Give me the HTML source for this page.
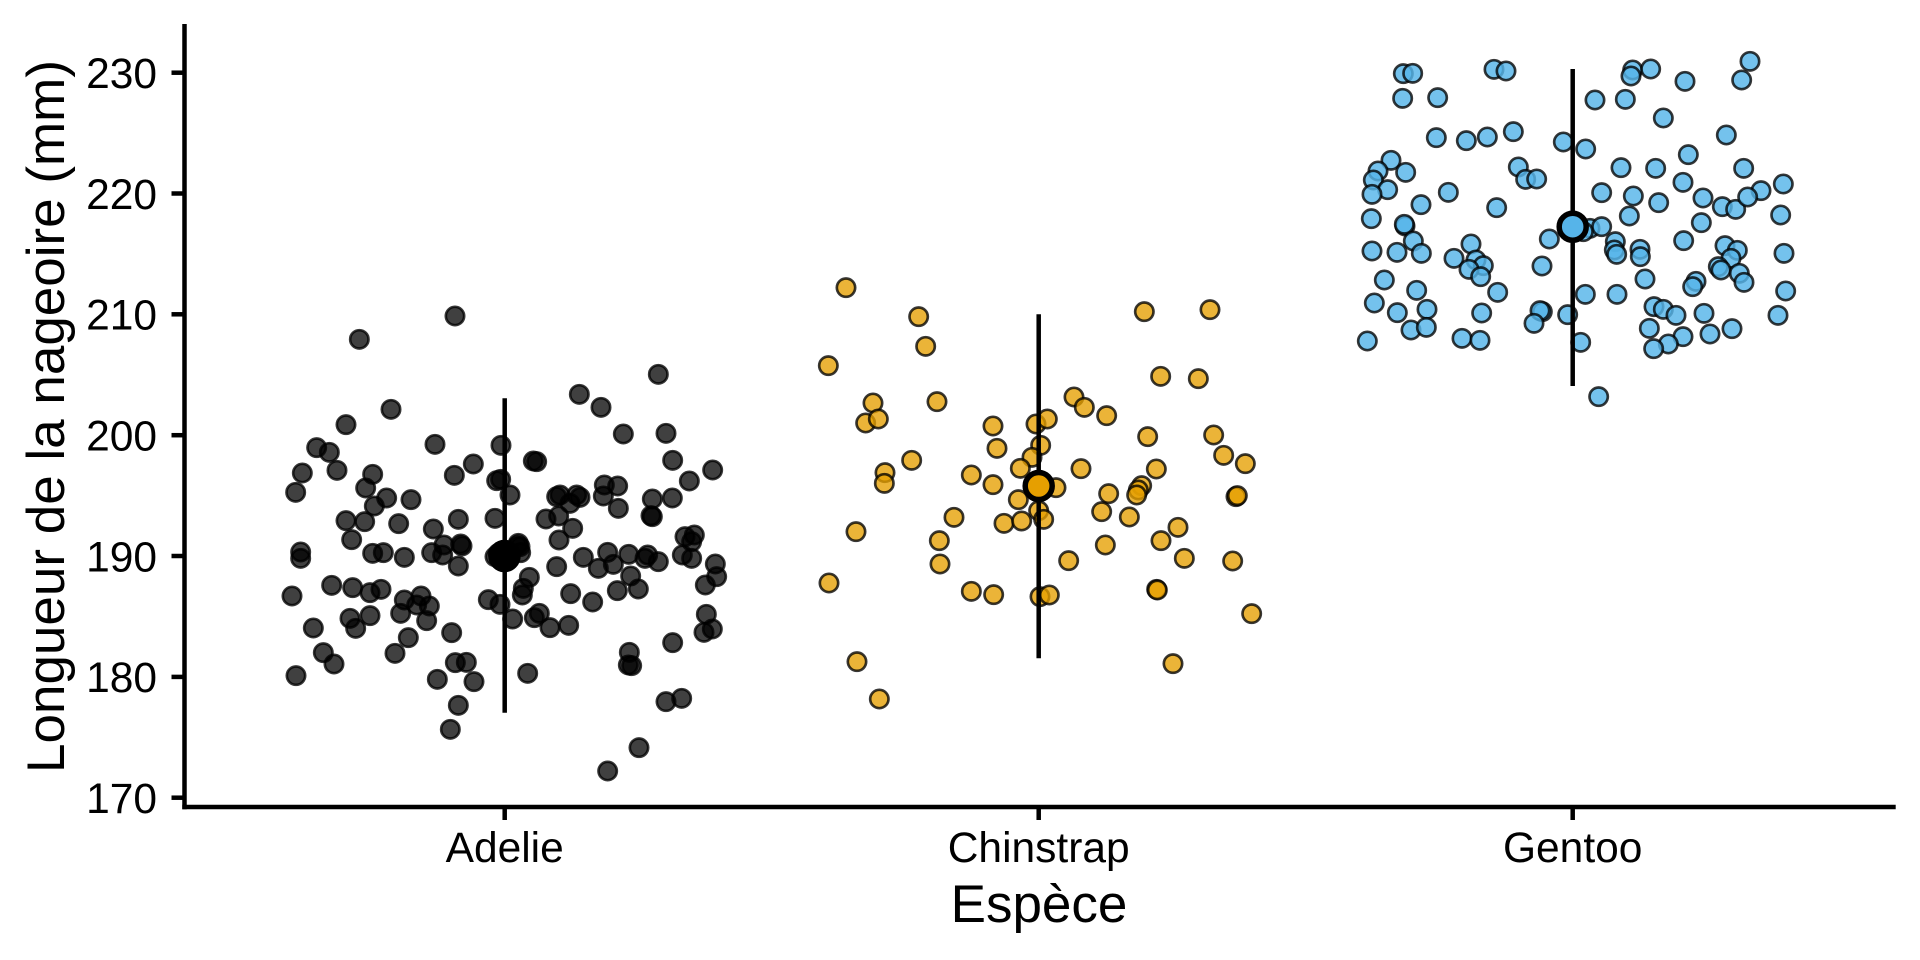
<!DOCTYPE html>
<html>
<head>
<meta charset="utf-8">
<style>
html,body{margin:0;padding:0;background:#fff;}
svg{display:block;}
text{font-family:"Liberation Sans",Arial,sans-serif;fill:#000;}
</style>
</head>
<body>
<svg width="1920" height="960" viewBox="0 0 1920 960" xmlns="http://www.w3.org/2000/svg">
<rect width="1920" height="960" fill="#fff"/>

<!-- Adelie points -->
<g transform="translate(270 290) scale(0.333333)" fill="#000" stroke="#000" stroke-width="8">
<g fill-opacity="0.75" stroke-opacity="0.78">
<circle cx="555" cy="78" r="27.5"/><circle cx="268" cy="148" r="27.5"/><circle cx="1165" cy="253" r="27.5"/><circle cx="928" cy="313" r="27.5"/>
<circle cx="993" cy="352" r="27.5"/><circle cx="363" cy="358" r="27.5"/><circle cx="228" cy="404" r="27.5"/><circle cx="1060" cy="432" r="27.5"/>
<circle cx="1188" cy="430" r="27.5"/><circle cx="495" cy="463" r="27.5"/><circle cx="693" cy="466" r="27.5"/><circle cx="140" cy="473" r="27.5"/>
<circle cx="178" cy="487" r="27.5"/><circle cx="790" cy="513" r="27.5"/><circle cx="800" cy="515" r="27.5"/><circle cx="1208" cy="511" r="27.5"/>
<circle cx="610" cy="522" r="27.5"/><circle cx="97" cy="549" r="27.5"/><circle cx="201" cy="541" r="27.5"/><circle cx="1328" cy="540" r="27.5"/>
<circle cx="553" cy="556" r="27.5"/><circle cx="308" cy="553" r="27.5"/><circle cx="680" cy="572" r="27.5"/><circle cx="692" cy="568" r="27.5"/>
<circle cx="287" cy="594" r="27.5"/><circle cx="1258" cy="573" r="27.5"/><circle cx="77" cy="607" r="27.5"/><circle cx="1003" cy="585" r="27.5"/>
<circle cx="1043" cy="588" r="27.5"/><circle cx="720" cy="615" r="27.5"/><circle cx="350" cy="624" r="27.5"/><circle cx="423" cy="629" r="27.5"/>
<circle cx="870" cy="615" r="27.5"/><circle cx="860" cy="620" r="27.5"/><circle cx="920" cy="615" r="27.5"/><circle cx="930" cy="622" r="27.5"/>
<circle cx="900" cy="640" r="27.5"/><circle cx="1000" cy="618" r="27.5"/><circle cx="1147" cy="627" r="27.5"/><circle cx="1207" cy="624" r="27.5"/>
<circle cx="313" cy="648" r="27.5"/><circle cx="1045" cy="655" r="27.5"/><circle cx="828" cy="687" r="27.5"/><circle cx="866" cy="678" r="27.5"/>
<circle cx="1147" cy="680" r="27.5"/><circle cx="1143" cy="677" r="27.5"/><circle cx="675" cy="685" r="27.5"/><circle cx="565" cy="688" r="27.5"/>
<circle cx="228" cy="692" r="27.5"/><circle cx="284" cy="695" r="27.5"/><circle cx="386" cy="701" r="27.5"/><circle cx="490" cy="717" r="27.5"/>
<circle cx="908" cy="715" r="27.5"/><circle cx="867" cy="750" r="27.5"/><circle cx="245" cy="749" r="27.5"/><circle cx="1245" cy="740" r="27.5"/>
<circle cx="1273" cy="735" r="27.5"/><circle cx="1265" cy="755" r="27.5"/><circle cx="522" cy="765" r="27.5"/><circle cx="572" cy="762" r="27.5"/>
<circle cx="576" cy="768" r="27.5"/><circle cx="745" cy="760" r="27.5"/><circle cx="750" cy="770" r="27.5"/><circle cx="92" cy="786" r="27.5"/>
<circle cx="92" cy="805" r="27.5"/><circle cx="308" cy="790" r="27.5"/><circle cx="340" cy="788" r="27.5"/><circle cx="403" cy="802" r="27.5"/>
<circle cx="485" cy="788" r="27.5"/><circle cx="518" cy="795" r="27.5"/><circle cx="565" cy="828" r="27.5"/><circle cx="940" cy="802" r="27.5"/>
<circle cx="1013" cy="787" r="27.5"/><circle cx="1076" cy="793" r="27.5"/><circle cx="1133" cy="795" r="27.5"/><circle cx="1125" cy="805" r="27.5"/>
<circle cx="1165" cy="815" r="27.5"/><circle cx="1030" cy="823" r="27.5"/><circle cx="985" cy="835" r="27.5"/><circle cx="1237" cy="795" r="27.5"/>
<circle cx="1265" cy="805" r="27.5"/><circle cx="1336" cy="822" r="27.5"/><circle cx="1340" cy="860" r="27.5"/><circle cx="860" cy="830" r="27.5"/>
<circle cx="778" cy="862" r="27.5"/><circle cx="1082" cy="858" r="27.5"/><circle cx="1306" cy="885" r="27.5"/><circle cx="185" cy="886" r="27.5"/>
<circle cx="248" cy="893" r="27.5"/><circle cx="300" cy="908" r="27.5"/><circle cx="333" cy="898" r="27.5"/><circle cx="66" cy="918" r="27.5"/>
<circle cx="760" cy="895" r="27.5"/><circle cx="757" cy="915" r="27.5"/><circle cx="1042" cy="902" r="27.5"/><circle cx="1105" cy="897" r="27.5"/>
<circle cx="902" cy="911" r="27.5"/><circle cx="968" cy="936" r="27.5"/><circle cx="403" cy="930" r="27.5"/><circle cx="453" cy="918" r="27.5"/>
<circle cx="440" cy="945" r="27.5"/><circle cx="478" cy="948" r="27.5"/><circle cx="392" cy="970" r="27.5"/><circle cx="655" cy="929" r="27.5"/>
<circle cx="690" cy="943" r="27.5"/><circle cx="470" cy="992" r="27.5"/><circle cx="240" cy="985" r="27.5"/><circle cx="300" cy="977" r="27.5"/>
<circle cx="257" cy="1015" r="27.5"/><circle cx="130" cy="1014" r="27.5"/><circle cx="728" cy="987" r="27.5"/><circle cx="793" cy="983" r="27.5"/>
<circle cx="808" cy="970" r="27.5"/><circle cx="840" cy="1013" r="27.5"/><circle cx="896" cy="1006" r="27.5"/><circle cx="1309" cy="973" r="27.5"/>
<circle cx="1302" cy="1027" r="27.5"/><circle cx="1327" cy="1017" r="27.5"/><circle cx="545" cy="1028" r="27.5"/><circle cx="415" cy="1043" r="27.5"/>
<circle cx="1208" cy="1058" r="27.5"/><circle cx="160" cy="1088" r="27.5"/><circle cx="192" cy="1122" r="27.5"/><circle cx="375" cy="1090" r="27.5"/>
<circle cx="1078" cy="1087" r="27.5"/><circle cx="1075" cy="1125" r="27.5"/><circle cx="1085" cy="1127" r="27.5"/><circle cx="556" cy="1118" r="27.5"/>
<circle cx="589" cy="1117" r="27.5"/><circle cx="78" cy="1157" r="27.5"/><circle cx="502" cy="1168" r="27.5"/><circle cx="612" cy="1175" r="27.5"/>
<circle cx="773" cy="1150" r="27.5"/><circle cx="565" cy="1246" r="27.5"/><circle cx="1188" cy="1235" r="27.5"/><circle cx="1235" cy="1225" r="27.5"/>
<circle cx="541" cy="1318" r="27.5"/><circle cx="1107" cy="1373" r="27.5"/><circle cx="1013" cy="1443" r="27.5"/>
<circle cx="685" cy="790" r="27.5"/><circle cx="715" cy="805" r="27.5"/><circle cx="742" cy="768" r="27.5"/><circle cx="752" cy="788" r="27.5"/><circle cx="700" cy="815" r="27.5"/><circle cx="675" cy="800" r="27.5"/>
</g>
</g>

<!-- Chinstrap points -->
<g transform="translate(810 265) scale(0.333333)" fill="#E69F00" stroke="#000" stroke-width="8">
<g fill-opacity="0.78" stroke-opacity="0.78">
<circle cx="108" cy="68" r="27.5"/><circle cx="326" cy="155" r="27.5"/><circle cx="347" cy="244" r="27.5"/><circle cx="55" cy="302" r="27.5"/>
<circle cx="1003" cy="140" r="27.5"/><circle cx="1200" cy="134" r="27.5"/><circle cx="1052" cy="334" r="27.5"/><circle cx="1165" cy="341" r="27.5"/>
<circle cx="189" cy="414" r="27.5"/><circle cx="167" cy="474" r="27.5"/><circle cx="205" cy="462" r="27.5"/><circle cx="381" cy="410" r="27.5"/>
<circle cx="792" cy="396" r="27.5"/><circle cx="823" cy="427" r="27.5"/><circle cx="890" cy="452" r="27.5"/><circle cx="549" cy="483" r="27.5"/>
<circle cx="678" cy="477" r="27.5"/><circle cx="712" cy="462" r="27.5"/><circle cx="692" cy="541" r="27.5"/><circle cx="561" cy="550" r="27.5"/>
<circle cx="1013" cy="515" r="27.5"/><circle cx="1211" cy="510" r="27.5"/><circle cx="1241" cy="571" r="27.5"/><circle cx="1306" cy="596" r="27.5"/>
<circle cx="305" cy="586" r="27.5"/><circle cx="666" cy="577" r="27.5"/><circle cx="631" cy="610" r="27.5"/><circle cx="813" cy="611" r="27.5"/>
<circle cx="1039" cy="612" r="27.5"/><circle cx="225" cy="623" r="27.5"/><circle cx="223" cy="655" r="27.5"/><circle cx="484" cy="630" r="27.5"/>
<circle cx="549" cy="659" r="27.5"/><circle cx="738" cy="668" r="27.5"/><circle cx="995" cy="662" r="27.5"/><circle cx="985" cy="675" r="27.5"/>
<circle cx="980" cy="690" r="27.5"/><circle cx="896" cy="686" r="27.5"/><circle cx="1278" cy="695" r="27.5"/><circle cx="1282" cy="692" r="27.5"/>
<circle cx="625" cy="704" r="27.5"/><circle cx="686" cy="737" r="27.5"/><circle cx="701" cy="763" r="27.5"/><circle cx="875" cy="740" r="27.5"/>
<circle cx="958" cy="756" r="27.5"/><circle cx="432" cy="757" r="27.5"/><circle cx="582" cy="775" r="27.5"/><circle cx="635" cy="768" r="27.5"/>
<circle cx="138" cy="800" r="27.5"/><circle cx="1104" cy="787" r="27.5"/><circle cx="1053" cy="827" r="27.5"/><circle cx="388" cy="827" r="27.5"/>
<circle cx="886" cy="840" r="27.5"/><circle cx="776" cy="887" r="27.5"/><circle cx="1123" cy="880" r="27.5"/><circle cx="1268" cy="888" r="27.5"/>
<circle cx="390" cy="897" r="27.5"/><circle cx="57" cy="954" r="27.5"/><circle cx="1040" cy="973" r="27.5"/><circle cx="1042" cy="975" r="27.5"/>
<circle cx="484" cy="979" r="27.5"/><circle cx="551" cy="989" r="27.5"/><circle cx="690" cy="995" r="27.5"/><circle cx="718" cy="990" r="27.5"/>
<circle cx="1325" cy="1046" r="27.5"/><circle cx="141" cy="1190" r="27.5"/><circle cx="1089" cy="1196" r="27.5"/><circle cx="208" cy="1302" r="27.5"/>
</g>
</g>

<!-- Gentoo points -->
<g transform="translate(1350 40) scale(0.333333)" fill="#56B4E9" stroke="#000" stroke-width="8">
<g fill-opacity="0.82" stroke-opacity="0.78">
<circle cx="160" cy="101" r="27.5"/><circle cx="188" cy="100" r="27.5"/><circle cx="432" cy="88" r="27.5"/><circle cx="468" cy="93" r="27.5"/>
<circle cx="848" cy="90" r="27.5"/><circle cx="843" cy="108" r="27.5"/><circle cx="902" cy="87" r="27.5"/><circle cx="1005" cy="124" r="27.5"/>
<circle cx="1175" cy="120" r="27.5"/><circle cx="1200" cy="64" r="27.5"/><circle cx="158" cy="175" r="27.5"/><circle cx="263" cy="173" r="27.5"/>
<circle cx="735" cy="180" r="27.5"/><circle cx="826" cy="178" r="27.5"/><circle cx="940" cy="234" r="27.5"/><circle cx="259" cy="293" r="27.5"/>
<circle cx="349" cy="302" r="27.5"/><circle cx="412" cy="291" r="27.5"/><circle cx="490" cy="275" r="27.5"/><circle cx="640" cy="306" r="27.5"/>
<circle cx="707" cy="327" r="27.5"/><circle cx="1129" cy="285" r="27.5"/><circle cx="1015" cy="344" r="27.5"/><circle cx="123" cy="361" r="27.5"/>
<circle cx="84" cy="393" r="27.5"/><circle cx="70" cy="420" r="27.5"/><circle cx="167" cy="397" r="27.5"/><circle cx="113" cy="449" r="27.5"/>
<circle cx="66" cy="463" r="27.5"/><circle cx="505" cy="381" r="27.5"/><circle cx="527" cy="418" r="27.5"/><circle cx="560" cy="417" r="27.5"/>
<circle cx="813" cy="383" r="27.5"/><circle cx="917" cy="385" r="27.5"/><circle cx="1181" cy="385" r="27.5"/><circle cx="999" cy="427" r="27.5"/>
<circle cx="1300" cy="432" r="27.5"/><circle cx="1233" cy="452" r="27.5"/><circle cx="295" cy="457" r="27.5"/><circle cx="755" cy="458" r="27.5"/>
<circle cx="850" cy="468" r="27.5"/><circle cx="926" cy="488" r="27.5"/><circle cx="1059" cy="474" r="27.5"/><circle cx="1117" cy="500" r="27.5"/>
<circle cx="1157" cy="508" r="27.5"/><circle cx="1193" cy="471" r="27.5"/><circle cx="213" cy="494" r="27.5"/><circle cx="440" cy="503" r="27.5"/>
<circle cx="1292" cy="525" r="27.5"/><circle cx="64" cy="536" r="27.5"/><circle cx="838" cy="528" r="27.5"/><circle cx="1054" cy="548" r="27.5"/>
<circle cx="165" cy="558" r="27.5"/><circle cx="163" cy="553" r="27.5"/><circle cx="598" cy="597" r="27.5"/><circle cx="720" cy="565" r="27.5"/>
<circle cx="755" cy="560" r="27.5"/><circle cx="700" cy="575" r="27.5"/><circle cx="1001" cy="602" r="27.5"/><circle cx="190" cy="603" r="27.5"/>
<circle cx="66" cy="633" r="27.5"/><circle cx="141" cy="637" r="27.5"/><circle cx="214" cy="640" r="27.5"/><circle cx="363" cy="612" r="27.5"/>
<circle cx="312" cy="655" r="27.5"/><circle cx="378" cy="660" r="27.5"/><circle cx="400" cy="677" r="27.5"/><circle cx="357" cy="688" r="27.5"/>
<circle cx="392" cy="710" r="27.5"/><circle cx="796" cy="605" r="27.5"/><circle cx="793" cy="630" r="27.5"/><circle cx="800" cy="643" r="27.5"/>
<circle cx="870" cy="628" r="27.5"/><circle cx="871" cy="650" r="27.5"/><circle cx="1125" cy="617" r="27.5"/><circle cx="1162" cy="631" r="27.5"/>
<circle cx="1143" cy="655" r="27.5"/><circle cx="1105" cy="680" r="27.5"/><circle cx="1113" cy="690" r="27.5"/><circle cx="1168" cy="700" r="27.5"/>
<circle cx="1182" cy="727" r="27.5"/><circle cx="1302" cy="640" r="27.5"/><circle cx="576" cy="678" r="27.5"/><circle cx="885" cy="717" r="27.5"/>
<circle cx="103" cy="720" r="27.5"/><circle cx="200" cy="751" r="27.5"/><circle cx="443" cy="757" r="27.5"/><circle cx="1038" cy="724" r="27.5"/>
<circle cx="1028" cy="740" r="27.5"/><circle cx="1307" cy="753" r="27.5"/><circle cx="706" cy="763" r="27.5"/><circle cx="801" cy="763" r="27.5"/>
<circle cx="73" cy="789" r="27.5"/><circle cx="142" cy="818" r="27.5"/><circle cx="231" cy="808" r="27.5"/><circle cx="395" cy="819" r="27.5"/>
<circle cx="577" cy="815" r="27.5"/><circle cx="570" cy="812" r="27.5"/><circle cx="552" cy="850" r="27.5"/><circle cx="653" cy="824" r="27.5"/>
<circle cx="912" cy="800" r="27.5"/><circle cx="940" cy="808" r="27.5"/><circle cx="978" cy="826" r="27.5"/><circle cx="1062" cy="820" r="27.5"/>
<circle cx="1284" cy="826" r="27.5"/><circle cx="183" cy="870" r="27.5"/><circle cx="229" cy="862" r="27.5"/><circle cx="898" cy="865" r="27.5"/>
<circle cx="1146" cy="866" r="27.5"/><circle cx="1080" cy="882" r="27.5"/><circle cx="999" cy="890" r="27.5"/><circle cx="955" cy="912" r="27.5"/>
<circle cx="911" cy="926" r="27.5"/><circle cx="52" cy="903" r="27.5"/><circle cx="336" cy="895" r="27.5"/><circle cx="390" cy="901" r="27.5"/>
<circle cx="692" cy="907" r="27.5"/><circle cx="746" cy="1070" r="27.5"/>
</g>
</g>

<!-- error bars -->
<g stroke="#000" stroke-width="4.5" fill="none">
<line x1="504.7" y1="398.3" x2="504.7" y2="712.7"/>
<line x1="1038.7" y1="314.3" x2="1038.7" y2="658.3"/>
<line x1="1572.7" y1="69" x2="1572.7" y2="386"/>
</g>
<!-- means -->
<circle cx="504.5" cy="556" r="13.5" fill="#000" stroke="#000" stroke-width="5.5"/>
<circle cx="1038.7" cy="486" r="13.5" fill="#E69F00" stroke="#000" stroke-width="5.5"/>
<circle cx="1572.7" cy="226.7" r="13.5" fill="#56B4E9" stroke="#000" stroke-width="5.5"/>

<!-- axes -->
<g stroke="#000" stroke-width="4.5" fill="none">
<line x1="184.5" y1="24" x2="184.5" y2="809.2"/>
<line x1="182.3" y1="807" x2="1895.7" y2="807"/>
<line x1="171.5" y1="72.7" x2="184.5" y2="72.7"/>
<line x1="171.5" y1="193.5" x2="184.5" y2="193.5"/>
<line x1="171.5" y1="314.3" x2="184.5" y2="314.3"/>
<line x1="171.5" y1="435.2" x2="184.5" y2="435.2"/>
<line x1="171.5" y1="556" x2="184.5" y2="556"/>
<line x1="171.5" y1="676.9" x2="184.5" y2="676.9"/>
<line x1="171.5" y1="797.7" x2="184.5" y2="797.7"/>
<line x1="504.7" y1="807" x2="504.7" y2="820"/>
<line x1="1038.7" y1="807" x2="1038.7" y2="820"/>
<line x1="1572.7" y1="807" x2="1572.7" y2="820"/>
</g>

<!-- y tick labels -->
<g font-size="42.5" text-anchor="end">
<text x="157" y="88">230</text>
<text x="157" y="208.8">220</text>
<text x="157" y="329.6">210</text>
<text x="157" y="450.5">200</text>
<text x="157" y="571.3">190</text>
<text x="157" y="692.2">180</text>
<text x="157" y="813">170</text>
</g>
<!-- x tick labels -->
<g font-size="42.5" text-anchor="middle">
<text x="504.7" y="862">Adelie</text>
<text x="1038.7" y="862">Chinstrap</text>
<text x="1572.7" y="862">Gentoo</text>
</g>

<!-- axis titles -->
<text x="1039" y="922" font-size="53" text-anchor="middle">Espèce</text>
<text transform="translate(64 416.5) rotate(-90)" font-size="53" text-anchor="middle">Longueur de la nageoire (mm)</text>
</svg>
</body>
</html>
